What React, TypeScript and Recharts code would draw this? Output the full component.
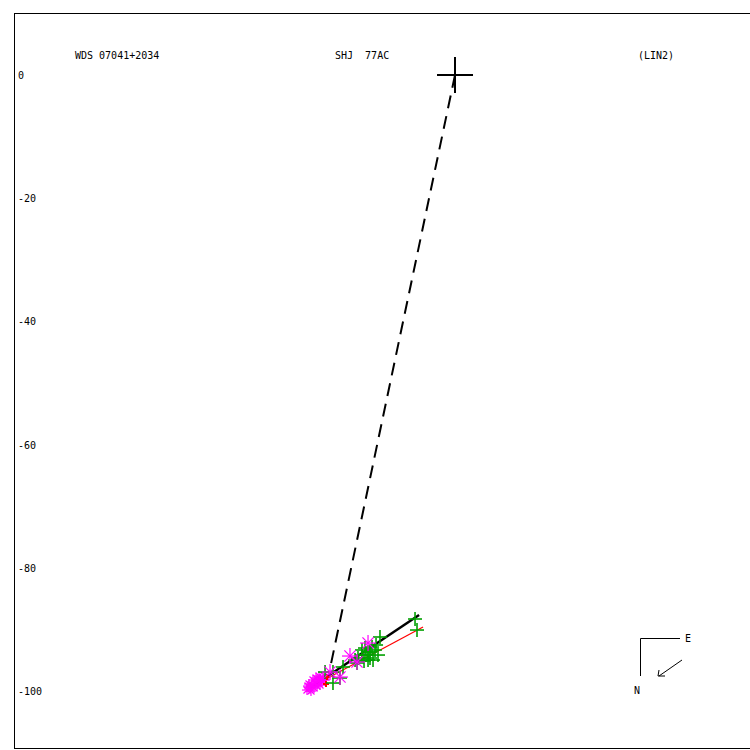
import { ComposedChart, XAxis, YAxis, Scatter, Line } from 'recharts'

// positions in arcsec relative to the primary (x right, y up)
const primary = [{ x: 0, y: 0 }]

const toOrbit = [
  { x: 0, y: 0 },
  { x: -20.45, y: -97.08 },
]

const fitLine = [
  { x: -23.54, y: -99.51 },
  { x: -5.84, y: -87.66 },
]

const linearFit = [
  { x: -23.05, y: -99.19 },
  { x: -5.19, y: -89.61 },
]

const greenObs = [
  { x: -6.49, y: -88.31 },
  { x: -6.17, y: -90.1 },
  { x: -12.18, y: -91.23 },
  { x: -12.82, y: -92.53 },
  { x: -14.61, y: -93.02 },
  { x: -13.8, y: -93.67 },
  { x: -15.1, y: -94.16 },
  { x: -14.12, y: -94.97 },
  { x: -13.31, y: -94.97 },
  { x: -15.91, y: -95.45 },
  { x: -18.18, y: -96.1 },
  { x: -19.81, y: -96.92 },
  { x: -19.81, y: -98.7 },
  { x: -21.1, y: -96.92 },
  { x: -18.67, y: -97.89 },
  { x: -15.1, y: -93.34 },
  { x: -14.45, y: -94.16 },
  { x: -13.8, y: -94.64 },
  { x: -12.99, y: -93.34 },
  { x: -15.75, y: -94.64 },
  { x: -14.77, y: -95.13 },
  { x: -13.47, y: -92.86 },
  { x: -14.12, y: -93.67 },
  { x: -16.23, y: -94.97 },
  { x: -12.5, y: -94.16 },
]

const magentaObs = [
  { x: -14.12, y: -92.21 },
  { x: -17.05, y: -94.32 },
  { x: -15.91, y: -95.29 },
  { x: -18.67, y: -97.73 },
  { x: -20.29, y: -96.92 },
]

const magentaEarly = [
  { x: -23.54, y: -99.51 },
  { x: -23.21, y: -99.03 },
  { x: -22.73, y: -98.7 },
  { x: -22.24, y: -98.38 },
  { x: -21.92, y: -98.05 },
  { x: -21.43, y: -97.89 },
  { x: -22.89, y: -99.51 },
  { x: -22.4, y: -99.19 },
  { x: -23.86, y: -99.19 },
  { x: -21.59, y: -98.54 },
  { x: -20.94, y: -97.73 },
  { x: -24.03, y: -99.84 },
  { x: -23.7, y: -98.86 },
  { x: -23.05, y: -98.21 },
  { x: -22.56, y: -97.89 },
  { x: -22.08, y: -97.56 },
  { x: -23.38, y: -100.0 },
  { x: -21.92, y: -99.03 },
  { x: -21.27, y: -98.21 },
]

const redObs = [
  { x: -20.78, y: -97.73 },
  { x: -20.94, y: -98.86 },
]

const yTicks = [0, -20, -40, -60, -80, -100]

const FONT = '"DejaVu Sans Mono", monospace'

function plus(color: string, r: number, w = 1) {
  return (p: any) => (
    <g stroke={color} strokeWidth={w}>
      <line x1={p.cx - r} y1={p.cy} x2={p.cx + r} y2={p.cy} />
      <line x1={p.cx} y1={p.cy - r} x2={p.cx} y2={p.cy + r} />
    </g>
  )
}

function star(color: string, r: number) {
  return (p: any) => {
    const d = r * 0.7
    return (
      <g stroke={color} strokeWidth={1.2}>
        <line x1={p.cx - r} y1={p.cy} x2={p.cx + r} y2={p.cy} />
        <line x1={p.cx} y1={p.cy - r} x2={p.cx} y2={p.cy + r} />
        <line x1={p.cx - d} y1={p.cy - d} x2={p.cx + d} y2={p.cy + d} />
        <line x1={p.cx - d} y1={p.cy + d} x2={p.cx + d} y2={p.cy - d} />
      </g>
    )
  }
}

const YTick = (p: any) => (
  <text x={18} y={p.y + 4} fontFamily={FONT} fontSize={10} fill="#000">
    {p.payload.value}
  </text>
)

export default function App() {
  return (
    <div
      style={{
        position: 'absolute',
        left: 0,
        top: 0,
        width: 750,
        height: 750,
        overflow: 'hidden',
        background: '#fff',
      }}
    >
      <div
        style={{
          position: 'absolute',
          left: 14,
          top: 13,
          width: 780,
          height: 734,
          borderTop: '1px solid #000',
          borderLeft: '1px solid #000',
          borderBottom: '1px solid #000',
        }}
      />
      <div style={{ position: 'absolute', left: 0, top: 0 }}>
        <ComposedChart
          width={760}
          height={750}
          margin={{ top: 14, right: 0, bottom: 2, left: 0 }}
        >
          <XAxis
            type="number"
            dataKey="x"
            domain={[-71.43, 49.51]}
            allowDataOverflow
            hide
            height={0}
          />
          <YAxis
            type="number"
            dataKey="y"
            domain={[-109.25, 9.9]}
            allowDataOverflow
            ticks={yTicks}
            interval={0}
            width={15}
            axisLine={false}
            tickLine={false}
            tick={YTick}
          />
          <Line
            data={toOrbit}
            dataKey="y"
            stroke="#000"
            strokeWidth={2}
            strokeDasharray="13 8"
            dot={false}
            isAnimationActive={false}
          />
          <Scatter data={magentaEarly} fill="#ff00ff" shape={star('#ff00ff', 5)} isAnimationActive={false} />
          <Scatter data={redObs} fill="#ff0000" shape={plus('#ff0000', 3, 2)} isAnimationActive={false} />
          <Scatter data={greenObs} fill="#00a000" shape={plus('#00a000', 7, 1.6)} isAnimationActive={false} />
          <Scatter data={magentaObs} fill="#ff00ff" shape={star('#ff00ff', 8)} isAnimationActive={false} />
          <Line
            data={linearFit}
            dataKey="y"
            stroke="#ff0000"
            strokeWidth={1.2}
            dot={false}
            isAnimationActive={false}
          />
          <Line
            data={fitLine}
            dataKey="y"
            stroke="#000"
            strokeWidth={2.5}
            dot={false}
            isAnimationActive={false}
          />
          <Scatter data={primary} fill="#000" shape={plus('#000', 18, 2)} isAnimationActive={false} />
        </ComposedChart>
      </div>
      <svg
        width={750}
        height={750}
        style={{ position: 'absolute', left: 0, top: 0, pointerEvents: 'none' }}
      >
        <g fontFamily={FONT} fontSize={10} fill="#000">
          <text x={75} y={59}>WDS 07041+2034</text>
          <text x={335} y={59} style={{ whiteSpace: 'pre' }}>SHJ  77AC</text>
          <text x={638} y={59}>(LIN2)</text>
          <text x={685} y={642}>E</text>
          <text x={634} y={694}>N</text>
        </g>
        <g stroke="#000" strokeWidth={1} fill="none">
          <polyline points="680,638.5 640.5,638.5 640.5,676" />
          <line x1={682} y1={660} x2={659} y2={676} />
          <polyline points="659,670 658,676 665,676" />
        </g>
      </svg>
    </div>
  )
}
